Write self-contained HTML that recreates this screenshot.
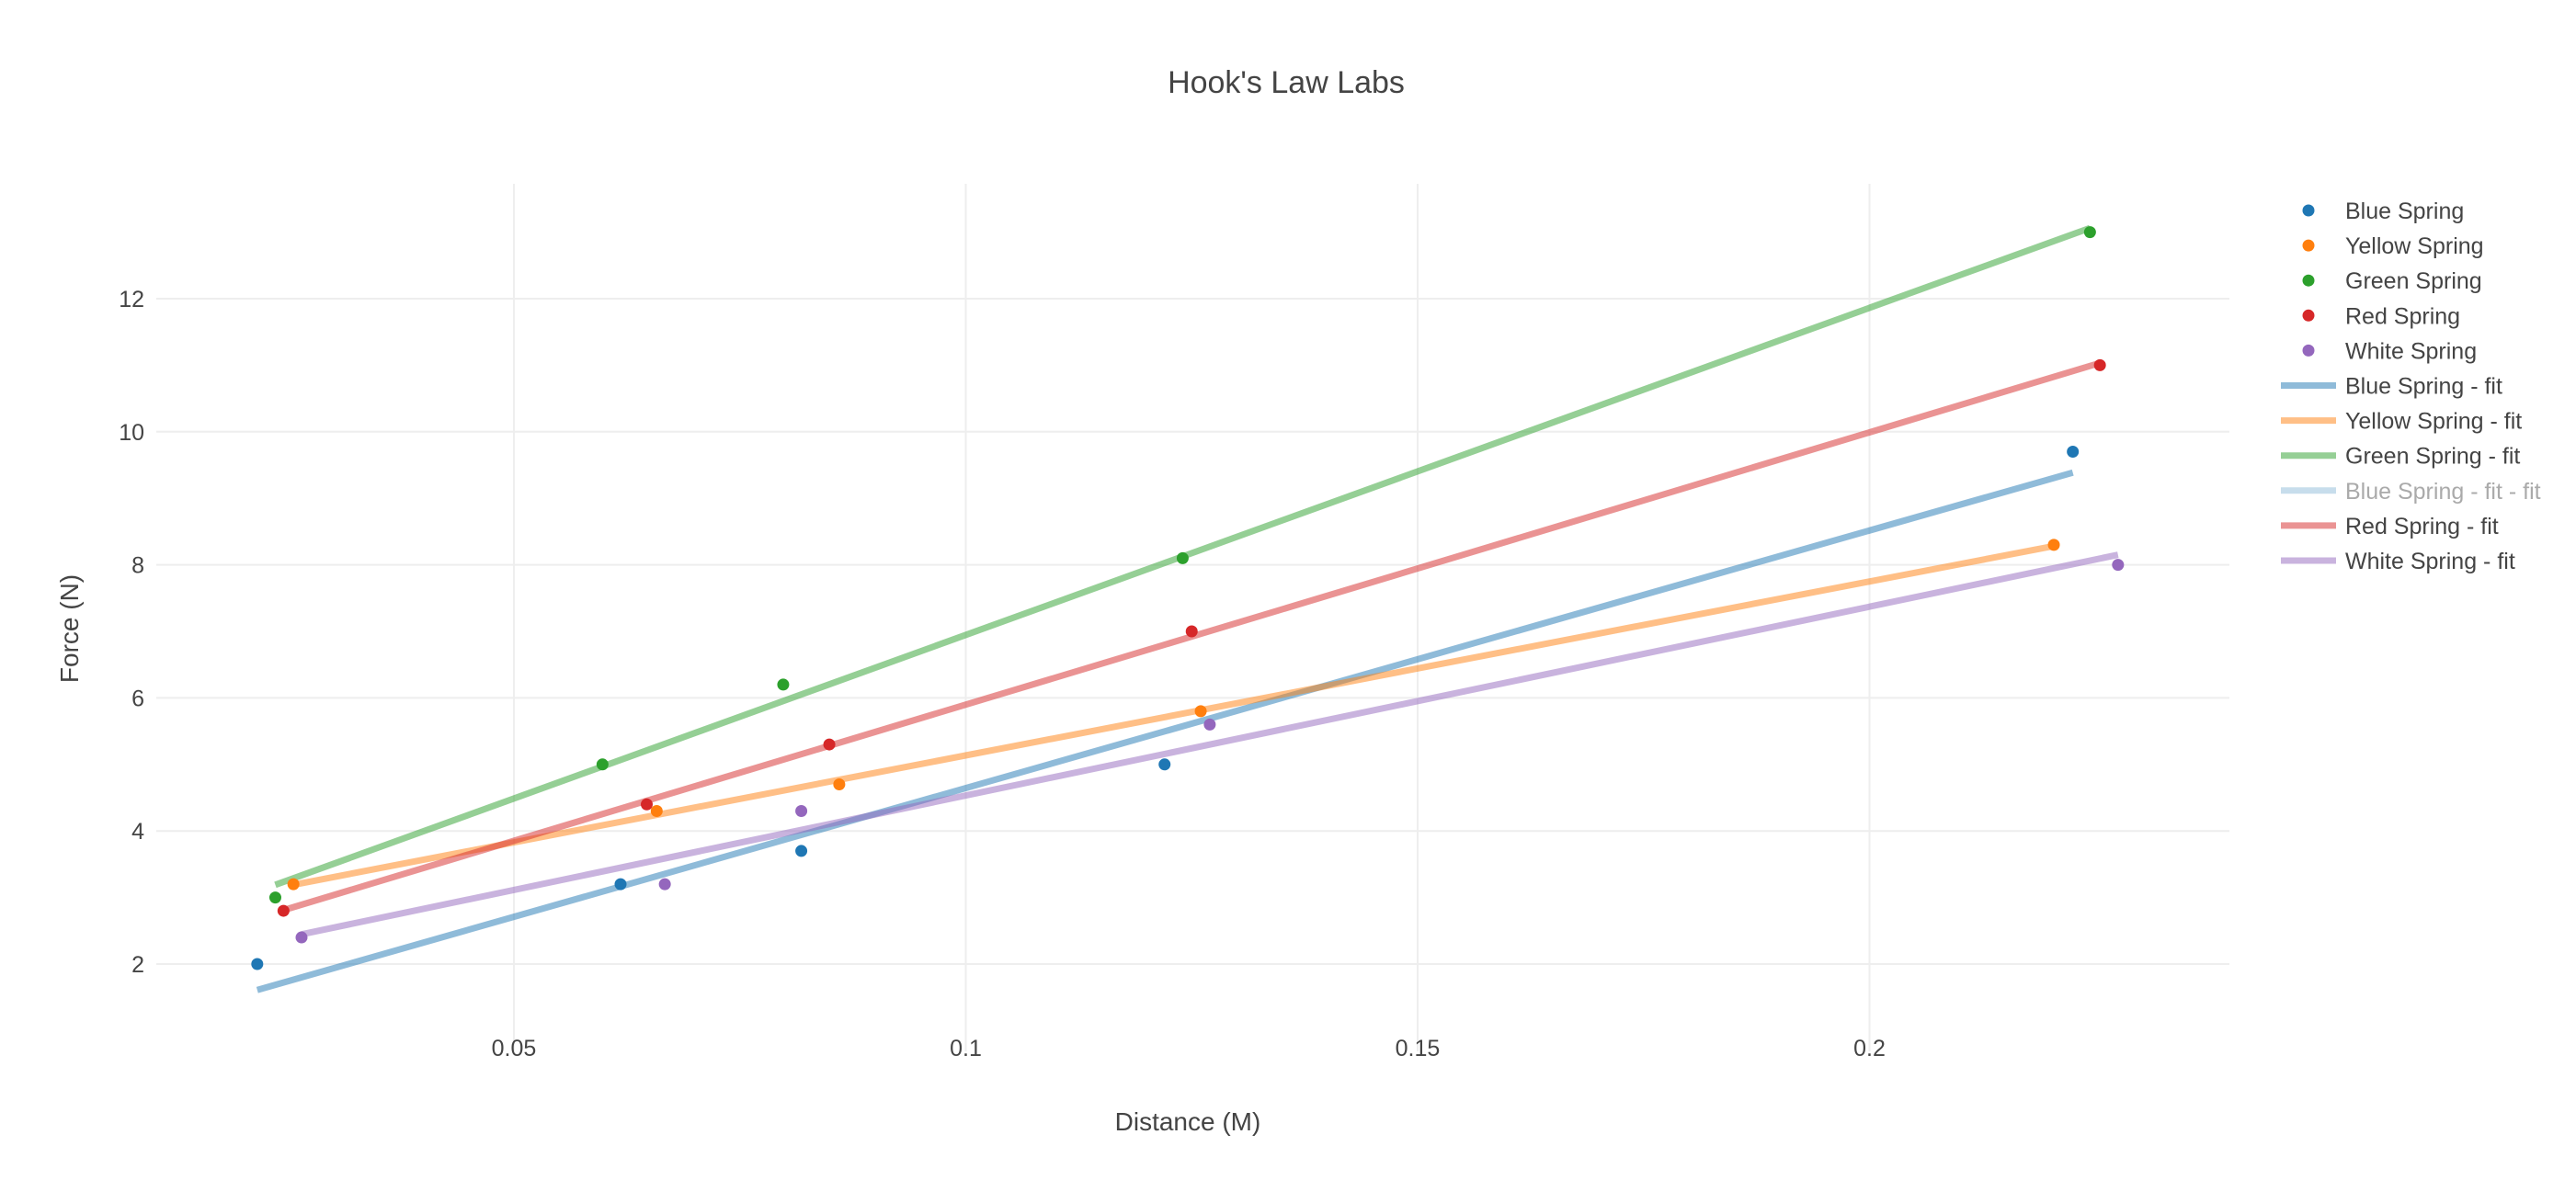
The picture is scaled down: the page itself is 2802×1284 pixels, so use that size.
<!DOCTYPE html>
<html><head><meta charset="utf-8"><style>
html,body{margin:0;padding:0;background:#fff;}
svg{display:block;font-family:"Liberation Sans",sans-serif;}
</style></head><body>
<svg id="chart" width="2802" height="1284">
<text x="1399" y="101" text-anchor="middle" font-size="34" fill="#444">Hook's Law Labs</text>
<g id="grid"></g><g id="fits"></g><g id="pts"></g><g id="ticks"></g>
<text x="1292" y="1230" text-anchor="middle" font-size="28" fill="#444">Distance (M)</text>
<text transform="translate(85,684) rotate(-90)" text-anchor="middle" font-size="28" fill="#444">Force (N)</text>
<g id="legend"></g>
</svg>
<script>
const seriesNames=["Blue Spring","Yellow Spring","Green Spring","Red Spring","White Spring"];
const colors=["#1f77b4","#ff7f0e","#2ca02c","#d62728","#9467bd"];
const blueX=[0.0216,0.0618,0.0818,0.122,0.2225];
const blueY=[2,3.2,3.7,5,9.7];
const yellowX=[0.0256,0.0658,0.086,0.126,0.2204];
const yellowY=[3.2,4.3,4.7,5.8,8.3];
const greenX=[0.0236,0.0598,0.0798,0.124,0.2244];
const greenY=[3,5,6.2,8.1,13];
const redX=[0.0245,0.0647,0.0849,0.125,0.2255];
const redY=[2.8,4.4,5.3,7,11];
const whiteX=[0.0265,0.0667,0.0818,0.127,0.2275];
const whiteY=[2.4,3.2,4.3,5.6,8];
const xTicks=[0.05,0.1,0.15,0.2];
const xTickLabels=["0.05","0.1","0.15","0.2"];
const yTicks=[2,4,6,8,10,12];
const legendLabels=["Blue Spring","Yellow Spring","Green Spring","Red Spring","White Spring","Blue Spring - fit","Yellow Spring - fit","Green Spring - fit","Blue Spring - fit - fit","Red Spring - fit","White Spring - fit"];

const NS="http://www.w3.org/2000/svg";
const L=170,R=2425,T=200,B=1144;
function sx(v){return 559+(v-0.05)*9830;}
function sy(v){return 1049-(v-2)*72.4;}
function mk(tag,attrs,parent){const e=document.createElementNS(NS,tag);for(const k in attrs)e.setAttribute(k,attrs[k]);parent.appendChild(e);return e;}
const grid=document.getElementById('grid'),ticks=document.getElementById('ticks');
xTicks.forEach((t,i)=>{
 const l=mk('line',{x1:sx(t),x2:sx(t),y1:T,y2:B,stroke:'#eee','stroke-width':2},grid);
 
 
 const tx=mk('text',{x:sx(t),y:1149,'text-anchor':'middle','font-size':25,fill:'#444'},ticks);
 tx.textContent=xTickLabels[i];
 
 
});
yTicks.forEach(t=>{
 const l=mk('line',{x1:L,x2:R,y1:sy(t),y2:sy(t),stroke:'#eee','stroke-width':2},grid);
 
 
 const tx=mk('text',{x:157,y:sy(t)+9,'text-anchor':'end','font-size':25,fill:'#444'},ticks);
 tx.textContent=String(t);
 
 
});
const X=[blueX,yellowX,greenX,redX,whiteX],Y=[blueY,yellowY,greenY,redY,whiteY];
const fits=document.getElementById('fits'),pts=document.getElementById('pts');
X.forEach((xs,i)=>{
 const ys=Y[i],n=xs.length;
 const mx=xs.reduce((a,b)=>a+b)/n,my=ys.reduce((a,b)=>a+b)/n;
 let num=0,den=0;xs.forEach((x,j)=>{num+=(x-mx)*(ys[j]-my);den+=(x-mx)*(x-mx);});
 const m=num/den,b=my-m*mx;
 const x0=Math.min(...xs),x1=Math.max(...xs);
 const ln=mk('line',{x1:sx(x0),y1:sy(m*x0+b),x2:sx(x1),y2:sy(m*x1+b),stroke:colors[i],'stroke-width':7,'stroke-opacity':0.5},fits);
 
 
 xs.forEach((x,j)=>{
  const c=mk('circle',{cx:sx(x),cy:sy(ys[j]),r:6.5,fill:colors[i]},pts);
  
  
 });
});
const leg=document.getElementById('legend');
const legColors=["#1f77b4","#ff7f0e","#2ca02c","#d62728","#9467bd","#1f77b4","#ff7f0e","#2ca02c","#1f77b4","#d62728","#9467bd"];
legendLabels.forEach((lab,i)=>{
 const y=229+i*38.1;
 const g=mk('g',{},leg);
 
 
 const faded=i===8;
 if(i<5){mk('circle',{cx:2511,cy:y,r:6.5,fill:legColors[i]},g);}
 else{mk('line',{x1:2481,x2:2541,y1:y,y2:y,stroke:legColors[i],'stroke-width':7,'stroke-opacity':faded?0.25:0.5},g);}
 const t=mk('text',{x:2551,y:y+9,'font-size':25,fill:faded?'#aaa':'#444'},g);
 t.textContent=lab;
});
</script>
</body></html>
